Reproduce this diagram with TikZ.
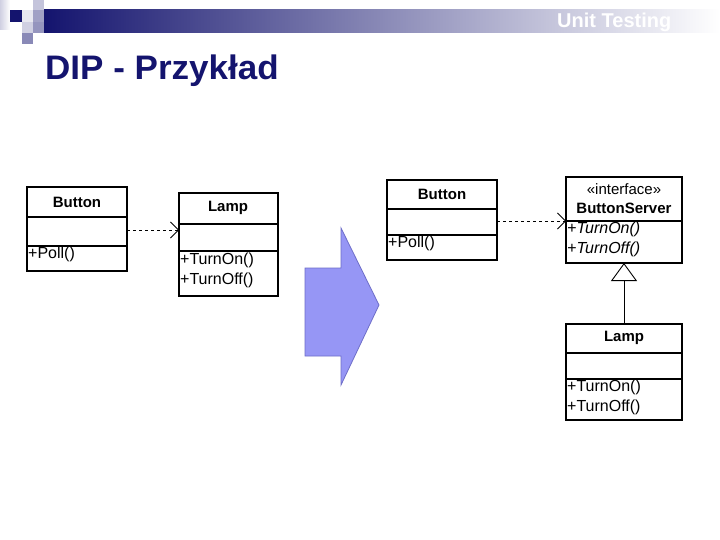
\documentclass[tikz,border=0pt]{standalone}
\usepackage{fontspec}
\setmainfont{Liberation Sans}
\usetikzlibrary{arrows.meta}
\definecolor{navy}{RGB}{20,20,110}
\definecolor{arrowfill}{RGB}{150,150,245}
\definecolor{arrowline}{RGB}{110,110,200}
\begin{document}
\begin{tikzpicture}[x=1pt,y=-1pt,
  box/.style={draw=black,line width=1.2pt},
  sep/.style={draw=black,line width=1.2pt},
  nm/.style={font=\bfseries\fontsize{15}{17}\selectfont,anchor=center,inner sep=0pt},
  op/.style={font=\fontsize{16}{20}\selectfont,anchor=north west,inner sep=1pt,align=left},
  dep/.style={draw,dashed,line width=0.8pt,-{Straight Barb[length=8pt,width=16pt]}},
  gen/.style={draw,line width=0.9pt,-{Triangle[open,length=18pt,width=26pt]}}]
\useasboundingbox (0,0) rectangle (720,540);
\fill[white] (0,0) rectangle (720,540);
% header decoration
\shade[left color=white!80!navy,right color=white] (0,0) rectangle (10,30);
\fill[navy] (10,10) rectangle (22,22);
\fill[navy!10] (22,10) rectangle (33,22);
\fill[navy!25] (33,0) rectangle (44,10);
\fill[navy!40] (33,10) rectangle (44,22);
\fill[navy!20] (22,22) rectangle (33,33);
\fill[navy!45] (33,22) rectangle (44,33);
\fill[navy!50] (22,33) rectangle (33,44);
\shade[left color=navy,right color=white] (44,10) rectangle (720,33);
\begin{scope}
\clip (0,0) rectangle (720,540);
\node[text=white,font=\bfseries\fontsize{20}{24}\selectfont,anchor=west,inner sep=0pt] (unit) at (557,22) {Unit Testing};
\end{scope}
\node[text=navy,font=\bfseries\fontsize{34}{40}\selectfont,anchor=base west,inner sep=0pt,xscale=1.03] (title) at (45,80) {DIP - Przykład};
% left diagram
\draw[box] (27,187) rectangle (127,271);
\draw[sep] (27,217) -- (127,217); \draw[sep] (27,246) -- (127,246);
\node[nm] (b1) at (77,202) {Button};
\node[op] (b1op) at (27,246) {+Poll()};
\draw[box] (179,193) rectangle (278,296);
\draw[sep] (179,224) -- (278,224); \draw[sep] (179,251) -- (278,251);
\node[nm] (l1) at (228,208) {Lamp};
\node[op] (l1op) at (179,252) {+TurnOn()\\+TurnOff()};
\coordinate (d1a) at (127,230); \coordinate (d1b) at (179,230);
\draw[dep] (d1a) -- (d1b);
% big arrow
\draw[fill=arrowfill,draw=arrowline,line width=0.8pt] (305,268) -- (341,268) -- (341,228) -- (379,305) -- (341,385) -- (341,356) -- (305,356) -- cycle;
% right diagram
\draw[box] (387,180) rectangle (497,260);
\draw[sep] (387,209) -- (497,209); \draw[sep] (387,235) -- (497,235);
\node[nm] (b2) at (442,194) {Button};
\node[op] (b2op) at (387,235) {+Poll()};
\draw[box] (566,177) rectangle (682,263);
\draw[sep] (566,221) -- (682,221);
\node[font=\fontsize{15}{17}\selectfont,inner sep=0pt] (st) at (624,189) {«interface»};
\node[nm] (bs) at (624,208) {ButtonServer};
\node[op,font=\itshape\fontsize{16}{20}\selectfont] (bsop) at (566,221) {+TurnOn()\\+TurnOff()};
\coordinate (d2a) at (497,221); \coordinate (d2b) at (566,221);
\draw[dep] (d2a) -- (d2b);
\draw[box] (566,324) rectangle (682,420);
\draw[sep] (566,353) -- (682,353); \draw[sep] (566,379) -- (682,379);
\node[nm] (l2) at (624,338) {Lamp};
\node[op] (l2op) at (566,379) {+TurnOn()\\+TurnOff()};
\coordinate (g1) at (624,324); \coordinate (g2) at (624,263);
\draw[gen] (g1) -- (g2);
\end{tikzpicture}
\end{document}
